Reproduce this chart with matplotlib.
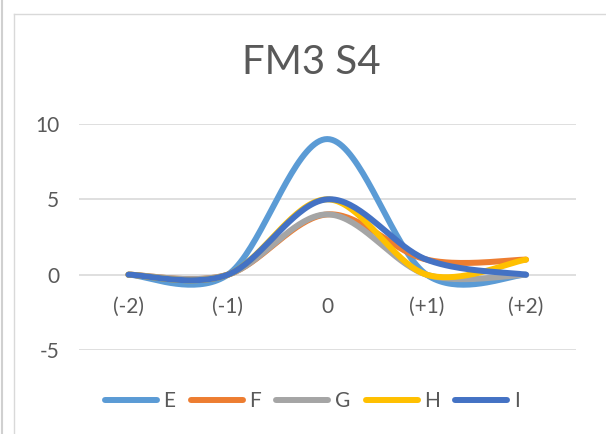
import numpy as np
import matplotlib.pyplot as plt
from matplotlib.lines import Line2D

categories = ['(-2)', '(-1)', '0', '(+1)', '(+2)']
series_names = ['E', 'F', 'G', 'H', 'I']
E = [0, 0, 9, 0, 0]
F = [0, 0, 4, 1, 1]
G = [0, 0, 4, 0, 0]
H = [0, 0, 5, 0, 1]
I = [0, 0, 5, 1, 0]
colors = ['#5B9BD5', '#ED7D31', '#A5A5A5', '#FFC000', '#4472C4']


def smooth(ys, n=40):
    # excel-ish smoothed line: cubic bezier with catmull-rom style handles
    x = np.arange(len(ys), dtype=float)
    y = np.asarray(ys, dtype=float)
    pts = np.column_stack([x, y])
    out = []
    for i in range(len(pts) - 1):
        p0 = pts[max(i - 1, 0)]
        p1 = pts[i]
        p2 = pts[i + 1]
        p3 = pts[min(i + 2, len(pts) - 1)]
        c1 = p1 + (p2 - p0) / 6
        c2 = p2 - (p3 - p1) / 6
        t = np.linspace(0, 1, n)[:, None]
        seg = ((1 - t) ** 3) * p1 + 3 * ((1 - t) ** 2) * t * c1 \
            + 3 * (1 - t) * t ** 2 * c2 + t ** 3 * p2
        out.append(seg if i == 0 else seg[1:])
    out = np.vstack(out)
    return out[:, 0], out[:, 1]


plt.rcParams['font.family'] = ['Lato', 'DejaVu Sans']
plt.rcParams['axes.unicode_minus'] = False
fig = plt.figure(figsize=(6.06, 4.34), dpi=100)
ax = fig.add_axes([0.130, 0.1935, 0.820, 0.5208])

for name, vals, c in zip(series_names, [E, F, G, H, I], colors):
    xs, ys = smooth(vals)
    ax.plot(xs, ys, color=c, lw=4.3, solid_capstyle='round', label=name)

ax.set_xlim(-0.5, 4.5)
ax.set_ylim(-5, 10)
ax.set_yticks([-5, 0, 5, 10])
ax.set_xticks(range(len(categories)))
ax.set_xticklabels(categories)
ax.grid(axis='y', color='#D9D9D9', lw=1.2)
ax.set_axisbelow(True)
for s in ax.spines.values():
    s.set_visible(False)
ax.spines['bottom'].set_position(('data', 0))
ax.tick_params(length=0, labelsize=15, labelcolor='#595959')
ax.tick_params(axis='x', pad=16)
ax.tick_params(axis='y', pad=14)

fig.text(311 / 606, 1 - 63 / 434, 'FM3 S4', ha='center', va='center',
         fontsize=29, color='#595959')

handles = [Line2D([], [], color=c, lw=4.3, solid_capstyle='round') for c in colors]
fig.legend(handles, series_names, loc='center', bbox_to_anchor=(312 / 606, 1 - 401 / 434),
           ncol=5, frameon=False, fontsize=15, handlelength=2.5, handletextpad=0.3,
           columnspacing=0.75, labelcolor='#595959')

# chart frame + neighbouring cell border
fig.add_artist(Line2D([14 / 606, 14 / 606], [0, 1 - 14 / 434], color='#D9D9D9', lw=1))
fig.add_artist(Line2D([14 / 606, 1], [1 - 14 / 434, 1 - 14 / 434], color='#D9D9D9', lw=1))
fig.add_artist(Line2D([1.5 / 606, 1.5 / 606], [0, 1], color='#D0D0D0', lw=1.5))

fig.savefig('out.png', dpi=100)
